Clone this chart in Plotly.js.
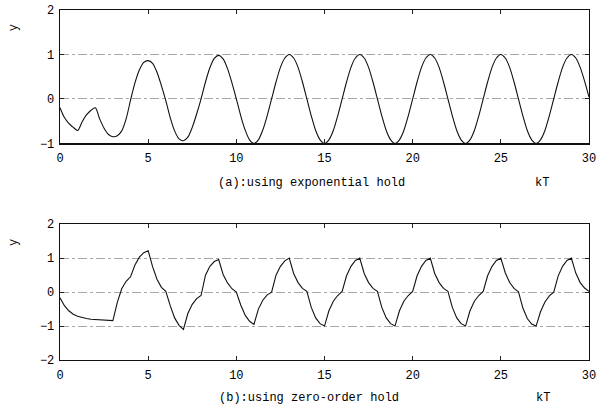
<!DOCTYPE html>
<html>
<head>
<meta charset="utf-8">
<script src="https://cdn.plot.ly/plotly-3.0.1.min.js"></script>
<style>html,body{margin:0;padding:0;background:#fff;}#chart{width:598px;height:409px;}</style>
</head>
<body>
<div id="chart"></div>
<script>
// sample instants kT
const kT = [0,0.25,0.5,0.75,1,1.25,1.5,1.75,2,2.25,2.5,2.75,3,3.25,3.5,3.75,4,4.25,4.5,4.75,
5,5.25,5.5,5.75,6,6.25,6.5,6.75,7,7.25,7.5,7.75,8,8.25,8.5,8.75,9,9.25,9.5,9.75,
10,10.25,10.5,10.75,11,11.25,11.5,11.75,12,12.25,12.5,12.75,13,13.25,13.5,13.75,14,14.25,14.5,14.75,
15,15.25,15.5,15.75,16,16.25,16.5,16.75,17,17.25,17.5,17.75,18,18.25,18.5,18.75,19,19.25,19.5,19.75,
20,20.25,20.5,20.75,21,21.25,21.5,21.75,22,22.25,22.5,22.75,23,23.25,23.5,23.75,24,24.25,24.5,24.75,
25,25.25,25.5,25.75,26,26.25,26.5,26.75,27,27.25,27.5,27.75,28,28.25,28.5,28.75,29,29.25,29.5,29.75,30];

// (a) exponential hold response
const yExpHold = [-0.2,-0.42,-0.55,-0.64,-0.71,-0.52,-0.36,-0.26,-0.2,-0.45,-0.66,-0.8,-0.85,-0.83,-0.72,-0.45,-0.03,0.36,0.65,0.82,
0.86,0.8,0.6,0.3,-0.04,-0.42,-0.72,-0.9,-0.94,-0.86,-0.64,-0.34,0.0,0.38,0.7,0.91,0.98,0.9,0.68,0.36,
0.0,-0.38,-0.7,-0.92,-1.0,-0.92,-0.7,-0.38,0.0,0.38,0.71,0.92,1.0,0.92,0.71,0.38,0.0,-0.38,-0.71,-0.92,
-1.0,-0.92,-0.71,-0.38,0.0,0.38,0.71,0.92,1.0,0.92,0.71,0.38,0.0,-0.38,-0.71,-0.92,-1.0,-0.92,-0.71,-0.38,
0.0,0.38,0.71,0.92,1.0,0.92,0.71,0.38,0.0,-0.38,-0.71,-0.92,-1.0,-0.92,-0.71,-0.38,0.0,0.38,0.71,0.92,
1.0,0.92,0.71,0.38,0.0,-0.38,-0.71,-0.92,-1.0,-0.92,-0.71,-0.38,0.0,0.38,0.71,0.92,1.0,0.92,0.71,0.4,0.04];

// (b) zero-order hold response
const yZeroHold = [-0.17,-0.4,-0.55,-0.65,-0.71,-0.75,-0.78,-0.8,-0.81,-0.82,-0.83,-0.83,-0.84,-0.3,0.1,0.32,0.45,0.8,1.03,1.16,
1.22,0.75,0.38,0.14,0.02,-0.4,-0.76,-0.98,-1.1,-0.63,-0.36,-0.19,-0.1,0.5,0.76,0.9,0.96,0.52,0.27,0.1,
0.0,-0.38,-0.68,-0.86,-0.95,-0.5,-0.24,-0.08,0.0,0.5,0.76,0.92,1.0,0.55,0.28,0.11,0.02,-0.45,-0.76,-0.93,
-1.0,-0.55,-0.27,-0.1,0.02,0.48,0.76,0.93,1.0,0.55,0.28,0.11,0.02,-0.45,-0.76,-0.93,-1.0,-0.55,-0.27,-0.1,
0.02,0.48,0.76,0.93,1.0,0.55,0.28,0.11,0.02,-0.45,-0.76,-0.93,-1.0,-0.55,-0.27,-0.1,0.02,0.48,0.76,0.93,
1.0,0.57,0.28,0.11,0.01,-0.47,-0.78,-0.94,-1.0,-0.58,-0.29,-0.11,0.0,0.47,0.76,0.93,1.0,0.56,0.28,0.12,0.02];

const xTicks = [0,5,10,15,20,25,30];
const yTicksA = [-1,0,1,2];
const yTicksB = [-2,-1,0,1,2];
const captionA = "(a):using exponential hold";
const captionB = "(b):using zero-order hold";
const xLabel = "kT";
const yLabel = "y";

const mono = "Liberation Mono, DejaVu Sans Mono, monospace";
const tickFont = {family: mono, size: 12, color: "#000"};

const traces = [
  {x: kT, y: yExpHold, xaxis: "x", yaxis: "y", type: "scatter", mode: "lines",
   line: {color: "#111", width: 1.1, shape: "spline", smoothing: 0.8}, hoverinfo: "skip"},
  {x: kT, y: yZeroHold, xaxis: "x2", yaxis: "y2", type: "scatter", mode: "lines",
   line: {color: "#111", width: 1.1}, hoverinfo: "skip"}
];

function xax(anchor) {
  return {anchor: anchor, domain: [0, 1], range: [0, 30], tickvals: xTicks, ticks: "inside", ticklen: 4,
    tickcolor: "#222", showline: true, linecolor: "#111", linewidth: 1.3, mirror: "ticks",
    showgrid: false, zeroline: false, tickfont: tickFont, ticklabelstandoff: 3, fixedrange: true};
}
function yax(anchor, domain, range, vals) {
  return {anchor: anchor, domain: domain, range: range, tickvals: vals, ticks: "inside", ticklen: 4,
    tickcolor: "#222", showline: true, linecolor: "#111", linewidth: 1.3, mirror: "ticks",
    showgrid: true, gridcolor: "#a8a8a8", gridwidth: 1, griddash: "dashdot", zeroline: false,
    tickfont: tickFont, ticklabelstandoff: 2, fixedrange: true};
}

const capFont = {family: mono, size: 12, color: "#000"};
const layout = {
  width: 598, height: 409,
  margin: {l: 60, r: 9, t: 10, b: 49},
  paper_bgcolor: "#fff", plot_bgcolor: "#fff",
  showlegend: false,
  xaxis: xax("y"),
  yaxis: yax("x", [0.619, 1], [-1, 2], yTicksA),
  xaxis2: xax("y2"),
  yaxis2: yax("x2", [0, 0.388], [-2, 2], yTicksB),
  annotations: [
    {text: captionA, xref: "paper", yref: "paper", x: 0.476, y: 0.506, showarrow: false, xanchor: "center", yanchor: "middle", font: capFont},
    {text: xLabel, xref: "paper", yref: "paper", x: 0.911, y: 0.506, showarrow: false, xanchor: "center", yanchor: "middle", font: capFont},
    {text: captionB, xref: "paper", yref: "paper", x: 0.471, y: -0.109, showarrow: false, xanchor: "center", yanchor: "middle", font: capFont},
    {text: xLabel, xref: "paper", yref: "paper", x: 0.913, y: -0.109, showarrow: false, xanchor: "center", yanchor: "middle", font: capFont},
    {text: yLabel, xref: "paper", yref: "paper", x: -0.087, y: 0.951, showarrow: false, textangle: -90, xanchor: "center", yanchor: "middle", font: capFont},
    {text: yLabel, xref: "paper", yref: "paper", x: -0.087, y: 0.337, showarrow: false, textangle: -90, xanchor: "center", yanchor: "middle", font: capFont}
  ]
};

Plotly.newPlot("chart", traces, layout, {staticPlot: true, displayModeBar: false});
</script>
</body>
</html>
